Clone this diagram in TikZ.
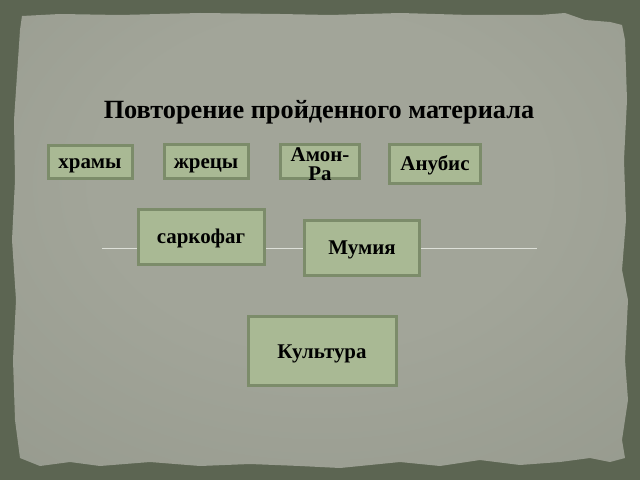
\documentclass[tikz,border=0pt]{standalone}
\usepackage{fontspec}
\setmainfont{Liberation Serif}
\definecolor{frameol}{HTML}{5C6552}
\definecolor{paper}{HTML}{92968A}
\definecolor{paperlight}{HTML}{A2A599}
\definecolor{boxfill}{HTML}{A9B994}
\definecolor{boxline}{HTML}{7C8C6A}
\definecolor{rule}{HTML}{DDE0D8}
\pgfdeclareradialshading{paperglow}{\pgfpoint{0bp}{8bp}}{color(0bp)=(paperlight); color(18bp)=(paperlight); color(50bp)=(paper); color(100bp)=(paper)}
\tikzset{
  boxshape/.style={draw=boxline, line width=3bp, fill=boxfill, inner sep=0pt},
  wordbox/.style={boxshape, font=\fontsize{21}{19}\selectfont\bfseries, text=black,
    text height=18bp, text depth=4bp},
  wordtext/.style={font=\fontsize{21}{19}\selectfont\bfseries, text=black, align=center, inner sep=0pt},
  titletext/.style={font=\fontsize{26.4}{30}\selectfont\bfseries, text=black, inner sep=0pt}
}
\begin{document}
\begin{tikzpicture}[x=1bp,y=-1bp]
\useasboundingbox (0,0) rectangle (640,480);
\fill[frameol] (0,0) rectangle (640,480);
\shade[shading=paperglow] (22,16) -- (60,14) -- (120,15) -- (200,13) -- (280,14) -- (330,15) -- (400,13) -- (470,15) -- (540,15) -- (565,13) -- (585,20) -- (610,22) -- (622,25)
  -- (625,40) -- (627,100) -- (624,160) -- (626,220) -- (622,270) -- (628,300) -- (625,360) -- (628,400) -- (622,440) -- (625,458)
  -- (610,462) -- (590,458) -- (560,462) -- (520,465) -- (480,460) -- (440,466) -- (400,462) -- (340,468) -- (300,466) -- (250,464) -- (200,466) -- (150,462) -- (100,466) -- (70,462) -- (40,466) -- (20,458)
  -- (15,420) -- (13,360) -- (16,300) -- (12,240) -- (15,180) -- (14,120) -- (18,60) -- (20,30) -- cycle;

\node[titletext] (title) at (319,112) {Повторение пройденного материала};

\coordinate (lineL) at (102,248);
\coordinate (lineR) at (537,248);
\draw[rule, line width=1bp] (lineL) -- (lineR);

\node[wordbox, minimum width=84bp, minimum height=33bp] (hramy) at (90,162) {храмы};
\node[wordbox, minimum width=84bp, minimum height=34bp] (zhrecy) at (206,162) {жрецы};
\node[boxshape, minimum width=79bp, minimum height=34bp] (amon) at (320,162) {};
\node[wordtext] (amontext) at (320,164) {Амон-\\Ра};
\node[wordbox, minimum width=91bp, minimum height=39bp] (anubis) at (435,164) {Анубис};
\node[wordbox, minimum width=126bp, minimum height=54bp] (sarkofag) at (201,237) {саркофаг};
\node[wordbox, minimum width=115bp, minimum height=55bp] (mumiya) at (362,248) {Мумия};
\node[wordbox, minimum width=148bp, minimum height=69bp] (kultura) at (322,351) {Культура};
\end{tikzpicture}
\end{document}
